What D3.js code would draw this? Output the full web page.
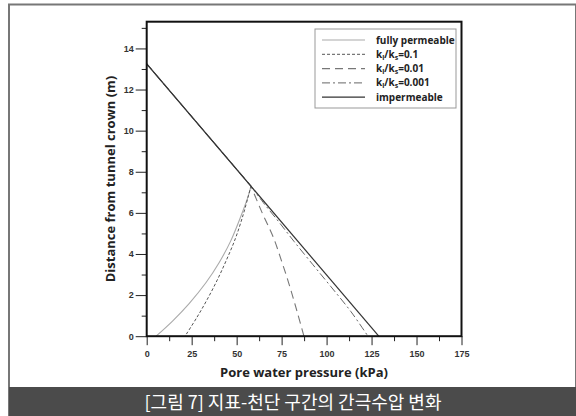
<!DOCTYPE html>
<meta charset="utf-8">
<style>
body { margin: 0; background: #fff; }
svg { display: block; font-family: "Open Sans", "Noto Sans", sans-serif; }
.axis text { font-size: 9px; font-weight: bold; fill: #333; }
.axis line, .axis path { stroke: #222; }
.series { fill: none; }
</style>
<svg width="576" height="416"></svg>
<script src="https://d3js.org/d3.v7.min.js"></script>
<script>

// pressure (kPa), depth (m) pairs
var fullyPermeable = [[0, 13.25], [58.0, 7.3], [56.2, 6.75], [52.2, 5.8], [46.8, 4.65], [40.4, 3.6], [32.9, 2.6], [23.7, 1.6], [14.5, 0.75], [5.2, 0]];
var ratio01 = [[0, 13.25], [58.0, 7.3], [56.6, 6.85], [53.6, 5.9], [49.3, 4.75], [44.3, 3.7], [39.2, 2.73], [33.4, 1.75], [27.8, 0.9], [21.3, 0]];
var ratio001 = [[0, 13.25], [58.0, 7.3], [64.2, 6.0], [70.3, 4.83], [75.2, 3.6], [79.6, 2.4], [83.6, 1.2], [87.4, 0]];
var ratio0001 = [[0, 13.25], [58.0, 7.3], [64.8, 6.5], [74.0, 5.5], [82.0, 4.6], [92.2, 3.5], [102.5, 2.4], [113.5, 1.2], [123.0, 0]];
var impermeable = [[0, 13.25], [129, 0]];

var xTicks = [0, 25, 50, 75, 100, 125, 150, 175];
var yTicks = [0, 2, 4, 6, 8, 10, 12, 14];

var series = [
  {name: "fully permeable", data: fullyPermeable, color: "#aaa", dash: null, width: 1.1},
  {name: ["k", "l", "/k", "s", "=0.1"], data: ratio01, color: "#555", dash: "3,2", width: 1},
  {name: ["k", "l", "/k", "s", "=0.01"], data: ratio001, color: "#777", dash: "8,5", width: 1.1},
  {name: ["k", "l", "/k", "s", "=0.001"], data: ratio0001, color: "#666", dash: "8,3,2,3", width: 1},
  {name: "impermeable", data: impermeable, color: "#333", dash: null, width: 1.2}
];

var svg = d3.select("svg");

// outer frame and caption bar
svg.append("rect")
    .attr("x", 9).attr("y", 4.5).attr("width", 567).attr("height", 420)
    .attr("fill", "#fff").attr("stroke", "#777").attr("stroke-width", 2);
svg.append("rect")
    .attr("x", 9).attr("y", 387).attr("width", 567).attr("height", 29)
    .attr("fill", "#4b4b4b");
svg.append("text")
    .attr("x", 293).attr("y", 409)
    .attr("text-anchor", "middle")
    .attr("fill", "#fff")
    .style("font-family", "'Noto Sans CJK KR', sans-serif")
    .style("font-size", "18px")
    .text("[그림 7] 지표-천단 구간의 간극수압 변화");

var x = d3.scaleLinear().domain([0, 175]).range([146.7, 461.5]);
var y = d3.scaleLinear().domain([0, 15.3]).range([336.2, 21.7]);

// minor ticks
svg.append("g")
    .attr("class", "axis")
    .attr("transform", "translate(0," + y(0) + ")")
    .call(d3.axisBottom(x).tickValues(d3.range(12.5, 175, 25)).tickSize(5).tickFormat(""))
  .select(".domain").remove();
svg.append("g")
    .attr("class", "axis")
    .attr("transform", "translate(" + x(0) + ",0)")
    .call(d3.axisLeft(y).tickValues(d3.range(1, 16, 2)).tickSize(5).tickFormat(""))
  .select(".domain").remove();

// major ticks
svg.append("g")
    .attr("class", "axis")
    .attr("transform", "translate(0," + y(0) + ")")
    .call(d3.axisBottom(x).tickValues(xTicks).tickSize(9).tickPadding(5))
  .select(".domain").remove();
svg.append("g")
    .attr("class", "axis")
    .attr("transform", "translate(" + x(0) + ",0)")
    .call(d3.axisLeft(y).tickValues(yTicks).tickSize(11).tickPadding(2))
  .select(".domain").remove();

// axis titles
svg.append("text")
    .attr("x", 304).attr("y", 377)
    .attr("text-anchor", "middle")
    .style("font-size", "13px").style("font-weight", "bold").attr("fill", "#222")
    .text("Pore water pressure (kPa)");
svg.append("text")
    .attr("transform", "translate(115,179) rotate(-90)")
    .attr("text-anchor", "middle")
    .style("font-size", "13px").style("font-weight", "bold").attr("fill", "#222")
    .text("Distance from tunnel crown (m)");

// hydrostatic part is straight, the part below the kink is smooth
var straight = d3.line()
    .x(function(d) { return x(d[0]); })
    .y(function(d) { return y(d[1]); });
var smooth = d3.line()
    .x(function(d) { return x(d[0]); })
    .y(function(d) { return y(d[1]); })
    .curve(d3.curveCatmullRom);

function seriesPath(data) {
  if (data.length < 3) return straight(data);
  return straight(data.slice(0, 2)) + "L" + smooth(data.slice(1)).slice(1);
}

svg.selectAll(".series")
    .data(series)
  .enter().append("path")
    .attr("class", "series")
    .attr("d", function(d) { return seriesPath(d.data); })
    .attr("stroke", function(d) { return d.color; })
    .attr("stroke-width", function(d) { return d.width; })
    .attr("stroke-dasharray", function(d) { return d.dash; });

// plot frame
svg.append("rect")
    .attr("x", x(0)).attr("y", y(15.3))
    .attr("width", x(175) - x(0)).attr("height", y(0) - y(15.3))
    .attr("fill", "none").attr("stroke", "#111").attr("stroke-width", 2);

// legend
var legend = svg.append("g").attr("transform", "translate(315,29)");
legend.append("rect")
    .attr("width", 141).attr("height", 79)
    .attr("fill", "#fff").attr("stroke", "#999").attr("stroke-width", 1);

var row = legend.selectAll(".row")
    .data(series)
  .enter().append("g")
    .attr("class", "row")
    .attr("transform", function(d, i) { return "translate(0," + (11 + i * 14.3) + ")"; });

row.append("line")
    .attr("x1", 7).attr("x2", 50)
    .attr("stroke", function(d) { return d.color; })
    .attr("stroke-width", function(d) { return d.width; })
    .attr("stroke-dasharray", function(d) { return d.dash; });

row.append("text")
    .attr("x", 61).attr("y", 3.5)
    .style("font-size", "10px").style("font-weight", "bold").attr("fill", "#222")
    .each(function(d) {
      var t = d3.select(this);
      if (typeof d.name === "string") { t.text(d.name); return; }
      t.append("tspan").text(d.name[0]);
      t.append("tspan").attr("dy", 2).style("font-size", "7px").text(d.name[1]);
      t.append("tspan").attr("dy", -2).text(d.name[2]);
      t.append("tspan").attr("dy", 2).style("font-size", "7px").text(d.name[3]);
      t.append("tspan").attr("dy", -2).text(d.name[4]);
    });

</script>
